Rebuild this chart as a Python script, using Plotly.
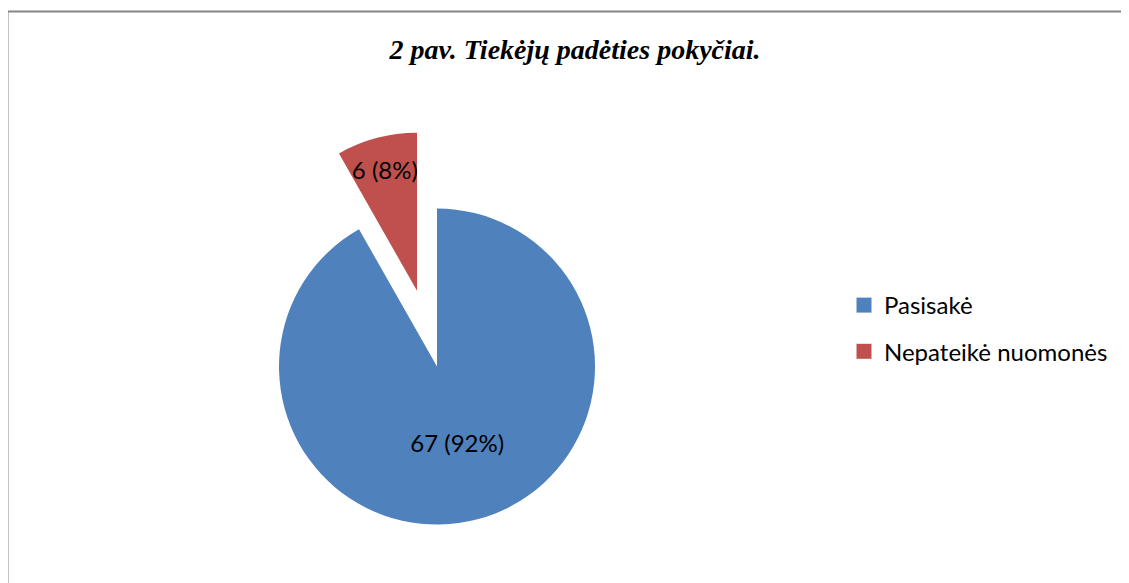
import plotly.graph_objects as go

categories = ["Pasisakė", "Nepateikė nuomonės"]
values = [67, 6]
colors = ["#4F81BD", "#C0504D"]
title_text = "2 pav. Tiekėjų padėties pokyčiai."

W, H = 1129, 583
OX, OY = 8, 8  # page body margin


def px(x):
    return (x - OX) / W


def py(y):
    return 1 - (y - OY) / H


fig = go.Figure()

fig.add_trace(go.Pie(
    labels=categories,
    values=values,
    marker=dict(colors=colors, line=dict(width=0)),
    sort=False,
    direction="clockwise",
    rotation=0,
    pull=[0.248, 0.248],
    texttemplate="%{value} (%{percent:.0%})",
    textposition="inside",
    insidetextorientation="horizontal",
    textfont=dict(family="Lato", size=24, color="#000000"),
    domain=dict(x=[px(229.8), px(624.2)], y=[py(525.9), py(131.5)]),
    showlegend=False,
    hoverinfo="label+value+percent",
))

for i, (cat, col) in enumerate(zip(categories, colors)):
    fig.add_trace(go.Scatter(
        x=[None], y=[None], mode="markers", name=cat,
        marker=dict(symbol="square", size=15, color=col),
        legendgroup=f"g{i}", showlegend=True,
    ))

fig.update_layout(
    width=W, height=H,
    margin=dict(l=0, r=0, t=0, b=0),
    paper_bgcolor="white", plot_bgcolor="white",
    xaxis=dict(visible=False), yaxis=dict(visible=False),
    uniformtext=dict(minsize=24, mode="show"),
    title=dict(
        text=f"<b><i>{title_text}</i></b>",
        x=px(575), xanchor="center", y=py(49), yanchor="middle",
        font=dict(family="Liberation Serif", size=28, color="#000000"),
    ),
    legend=dict(
        x=px(844), xanchor="left", y=py(283), yanchor="top",
        font=dict(family="Lato", size=24, color="#000000"),
        tracegroupgap=12, bgcolor="rgba(0,0,0,0)",
        itemwidth=30,
    ),
    shapes=[dict(
        type="rect", xref="paper", yref="paper",
        x0=px(7.5), x1=1.02, y0=-0.05, y1=py(11.5),
        line=dict(color="#868686", width=2), fillcolor="rgba(0,0,0,0)",
        layer="above",
    )],
)

fig.write_html("out.html")
